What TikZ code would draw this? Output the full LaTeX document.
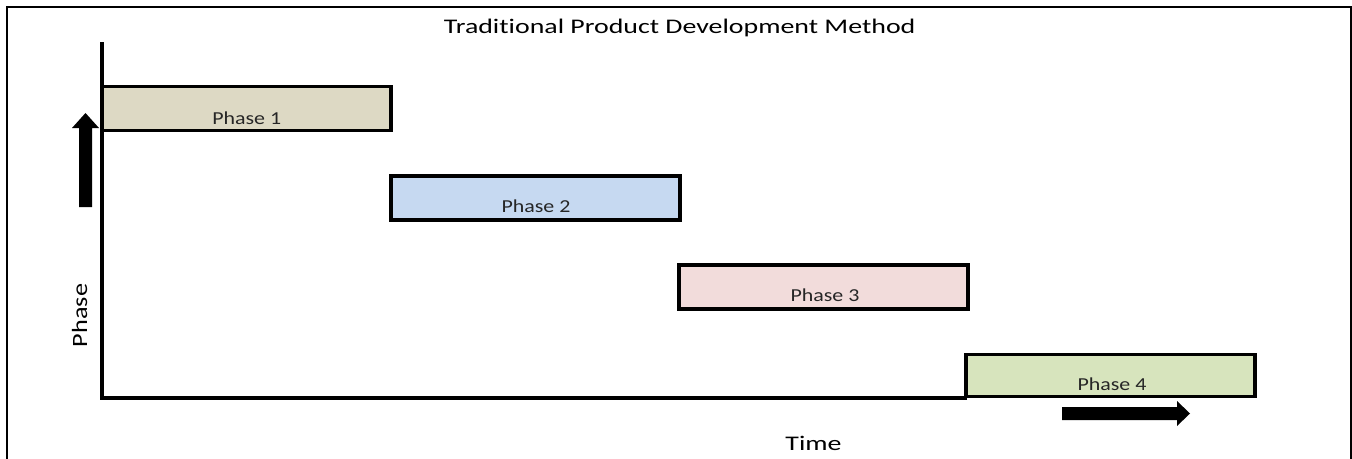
\documentclass[tikz,border=0pt]{standalone}
\usepackage{graphicx}
\usepackage{fontspec}
\setmainfont[Ligatures=NoCommon]{Carlito}
\definecolor{phaseA}{HTML}{DDD9C4}
\definecolor{phaseB}{HTML}{C6D9F1}
\definecolor{phaseC}{HTML}{F2DCDB}
\definecolor{phaseD}{HTML}{D7E4BD}
\newcommand{\bigtext}[1]{\scalebox{1.34}[1]{\fontsize{15.6pt}{18pt}\selectfont #1}}
\newcommand{\phasetext}[1]{\scalebox{1.2}[1]{\fontsize{13.7pt}{16pt}\selectfont #1}}
\begin{document}
\begin{tikzpicture}[x=0.75pt,y=-0.75pt,
  phasebox/.style={draw=black, line width=2.5pt, minimum width=289*0.75pt,
    minimum height=44*0.75pt, anchor=north west, inner sep=0pt, outer sep=0pt},
  phaselabel/.style={anchor=base, inner sep=0pt, text=black!85},
  axisline/.style={line width=3pt},
  fatarrow/.style={fill=black}]
\useasboundingbox (0,0) rectangle (1352,458);
% outer frame (bottom edge lies below the page)
\draw[line width=1.5pt] (7,480) -- (7,7) -- (1350.5,7) -- (1350.5,480);
% title
\node[anchor=base, inner sep=0pt] (title) at (679.7,33) {\bigtext{Traditional Product Development Method}};
% axes
\coordinate (ytop) at (102,42);
\coordinate (origin) at (102,397.8);
\coordinate (xend) at (967,397.8);
\draw[axisline] (ytop) -- (origin) -- (xend);
% phase bars
\node[phasebox, fill=phaseA] (p1) at (102,86.5) {};
\node[phasebox, fill=phaseB] (p2) at (391,176) {};
\node[phasebox, fill=phaseC] (p3) at (679,265) {};
\node[phasebox, fill=phaseD, minimum height=42*0.75pt] (p4) at (966,354.5) {};
\node[phaselabel] (l1) at (246.7,124) {\phasetext{Phase 1}};
\node[phaselabel] (l2) at (536,212) {\phasetext{Phase 2}};
\node[phaselabel] (l3) at (825,301) {\phasetext{Phase 3}};
\node[phaselabel] (l4) at (1112,390) {\phasetext{Phase 4}};
% axis titles
\node[anchor=base, inner sep=0pt] (xlab) at (813.5,450) {\bigtext{Time}};
\node[anchor=base, rotate=90, inner sep=0pt] (ylab) at (87,315.5) {\scalebox{1.26}[1.05]{\fontsize{15.6pt}{18pt}\selectfont Phase}};
% direction arrows
\fill[fatarrow] (79,207) -- (79,128) -- (72,128) -- (85.5,113) -- (99,128) -- (92,128) -- (92,207) -- cycle;
\fill[fatarrow] (1062,407) -- (1177,407) -- (1177,401) -- (1190,413.5) -- (1177,426) -- (1177,420) -- (1062,420) -- cycle;
\end{tikzpicture}
\end{document}
